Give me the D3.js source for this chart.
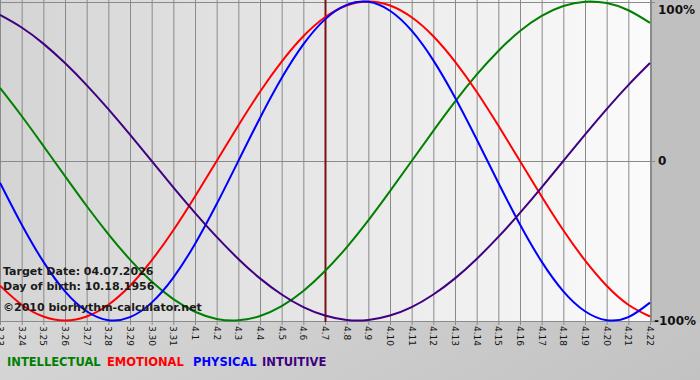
<!DOCTYPE html>
<html><head><meta charset="utf-8">
<script src="https://cdn.jsdelivr.net/npm/d3@7/dist/d3.min.js"></script>
<style>html,body{margin:0;padding:0;background:#c8c8c8;}svg{display:block;}</style>
</head><body>
<script>
const dates = ["3.23","3.24","3.25","3.26","3.27","3.28","3.29","3.30","3.31","4.1","4.2","4.3","4.4","4.5","4.6","4.7","4.8","4.9","4.10","4.11","4.12","4.13","4.14","4.15","4.16","4.17","4.18","4.19","4.20","4.21","4.22"];
const intellectual = [0.458,0.282,0.095,-0.095,-0.282,-0.458,-0.618,-0.756,-0.866,-0.945,-0.990,-0.999,-0.972,-0.910,-0.815,-0.690,-0.541,-0.372,-0.189,0,0.189,0.372,0.541,0.690,0.815,0.910,0.972,0.999,0.990,0.945,0.866];
const emotional = [-0.782,-0.901,-0.975,-1,-0.975,-0.901,-0.782,-0.623,-0.434,-0.222,0,0.222,0.434,0.623,0.782,0.901,0.975,1,0.975,0.901,0.782,0.623,0.434,0.222,0,-0.222,-0.434,-0.623,-0.782,-0.901,-0.975];
const physical = [-0.136,-0.398,-0.631,-0.817,-0.942,-0.998,-0.979,-0.888,-0.731,-0.520,-0.270,0,0.270,0.520,0.731,0.888,0.979,0.998,0.942,0.817,0.631,0.398,0.136,-0.136,-0.398,-0.631,-0.817,-0.942,-0.998,-0.979,-0.888];
const intuitive = [0.916,0.837,0.736,0.614,0.476,0.325,0.165,0,-0.165,-0.325,-0.476,-0.614,-0.736,-0.837,-0.916,-0.969,-0.997,-0.997,-0.969,-0.916,-0.837,-0.736,-0.614,-0.476,-0.325,-0.165,0,0.165,0.325,0.476,0.614];
const yTicks = [{v:1,label:"100%"},{v:0,label:"0"},{v:-1,label:"-100%"}];
const targetDate = "4.7";
const infoLines = ["Target Date: 04.07.2026","Day of birth: 10.18.1956","\u00a92010 biorhythm-calculator.net"];
const seriesNames = ["INTELLECTUAL","EMOTIONAL","PHYSICAL","INTUITIVE"];
const seriesData = [intellectual, emotional, physical, intuitive];
const seriesColors = ["#008000","#ff0000","#0000ff","#400080"];

const W = 700, H = 380;
const plot = {l:0, r:651, t:0, b:322};
const svg = d3.select("body").append("svg").attr("width",W).attr("height",H);
const defs = svg.append("defs");

const bg = defs.append("linearGradient").attr("id","bg").attr("x1","0").attr("y1","0").attr("x2","1").attr("y2","1");
bg.append("stop").attr("offset","0").attr("stop-color","#e6e6e6");
bg.append("stop").attr("offset","1").attr("stop-color","#c2c2c2");
const pg = defs.append("linearGradient").attr("id","pg").attr("x1","0").attr("y1","0").attr("x2","1").attr("y2","0");
pg.append("stop").attr("offset","0").attr("stop-color","#d4d4d4");
pg.append("stop").attr("offset","1").attr("stop-color","#fbfbfb");
defs.append("clipPath").attr("id","clip").append("rect")
  .attr("x",plot.l).attr("y",plot.t).attr("width",plot.r-plot.l).attr("height",plot.b-plot.t);

svg.append("rect").attr("width",W).attr("height",H).attr("fill","url(#bg)");
svg.append("rect").attr("x",plot.r).attr("y",0).attr("width",W-plot.r).attr("height",plot.b+1).attr("fill","#c0c0c0");
svg.append("rect").attr("x",plot.l).attr("y",plot.t).attr("width",plot.r-plot.l).attr("height",plot.b-plot.t).attr("fill","url(#pg)");

const x = d3.scalePoint().domain(dates).range([0,650]);
const y = d3.scaleLinear().domain([-1,1]).range([320.5,1.5]);

svg.append("g").selectAll("line").data(dates).join("line")
  .attr("x1",d=>x(d)+0.5).attr("x2",d=>x(d)+0.5)
  .attr("y1",plot.t).attr("y2",plot.b+3)
  .attr("stroke","#8a8a8a").attr("stroke-width",1);
svg.append("g").selectAll("line").data(yTicks).join("line")
  .attr("x1",plot.l).attr("x2",plot.r+4)
  .attr("y1",d=>Math.round(y(d.v))+0.5).attr("y2",d=>Math.round(y(d.v))+0.5)
  .attr("stroke","#8a8a8a").attr("stroke-width",1);
svg.append("line").attr("x1",plot.r+0.5).attr("x2",plot.r+0.5).attr("y1",0).attr("y2",plot.b)
  .attr("stroke","#8a8a8a");

svg.append("line").attr("x1",x(targetDate)+0.5).attr("x2",x(targetDate)+0.5)
  .attr("y1",plot.t).attr("y2",plot.b).attr("stroke","#7a1010").attr("stroke-width",2);

const line = d3.line().x((d,i)=>x(dates[i])).y(d=>y(d)).curve(d3.curveNatural);
const cg = svg.append("g").attr("clip-path","url(#clip)");
seriesData.forEach((s,k)=>{
  cg.append("path").attr("d",line(s)).attr("fill","none")
    .attr("stroke",seriesColors[k]).attr("stroke-width",2);
});

svg.append("g").selectAll("text").data(yTicks).join("text")
  .attr("x",d=>d.v===-1?654:658)
  .attr("y",d=>d.v===1?y(d.v)+8:y(d.v))
  .attr("dy","0.35em")
  .attr("font-family","DejaVu Sans").attr("font-weight","bold").attr("font-size",12)
  .attr("fill","#111").text(d=>d.label);

svg.append("g").selectAll("text").data(dates).join("text")
  .attr("transform",d=>`translate(${x(d)},${plot.b+4}) rotate(90)`)
  .attr("dy","0.35em").attr("font-family","DejaVu Sans").attr("font-size",9)
  .attr("fill","#111").text(d=>d);

svg.append("g").selectAll("text").data(infoLines).join("text")
  .attr("x",3).attr("y",(d,i)=>[275,290,311][i])
  .attr("font-family","DejaVu Sans").attr("font-weight","bold").attr("font-size",11)
  .attr("fill","#1a1a1a").text(d=>d);

const legX = [7,107,193,262];
svg.append("g").selectAll("text").data(seriesNames).join("text")
  .attr("x",(d,i)=>legX[i]).attr("y",366)
  .attr("font-family","DejaVu Sans").attr("font-weight","bold").attr("font-size",11.5)
  .attr("fill",(d,i)=>seriesColors[i]).text(d=>d);
</script>
</body></html>
